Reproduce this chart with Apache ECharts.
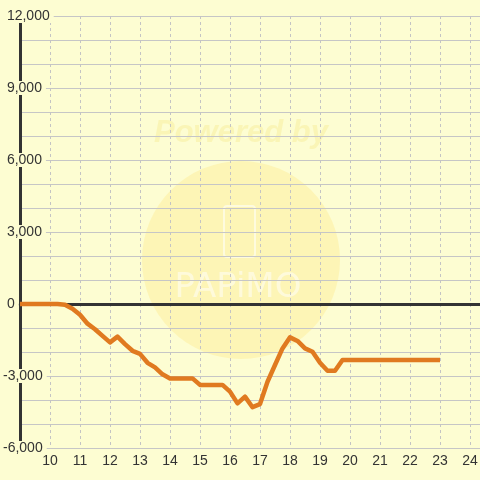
<!DOCTYPE html>
<html>
<head>
<meta charset="utf-8">
<script src="https://cdn.jsdelivr.net/npm/echarts@6/dist/echarts.min.js"></script>
<style>
  html, body { margin: 0; padding: 0; background: #fdfdd2; }
</style>
</head>
<body>
<div id="chartDom" style="width: 480px; height: 480px;"></div>
<script>
// hour of day -> value
const hours = [9, 10.25, 10.5, 10.75, 11, 11.25, 11.5, 11.75, 12, 12.25, 12.5, 12.75, 13, 13.25, 13.5, 13.75, 14, 14.75, 15, 15.75, 16, 16.25, 16.5, 16.75, 17, 17.25, 17.5, 17.75, 18, 18.25, 18.5, 18.75, 19, 19.25, 19.5, 19.75, 23];
const values = [0, 0, -30, -200, -450, -820, -1050, -1330, -1600, -1360, -1670, -1950, -2080, -2450, -2640, -2930, -3100, -3100, -3370, -3370, -3650, -4140, -3860, -4300, -4170, -3240, -2540, -1850, -1390, -1540, -1850, -1990, -2450, -2780, -2780, -2330, -2330];
const yMin = -6000;
const yMax = 12000;

const seriesData = hours.map((h, i) => [h, values[i]]);

const myChart = echarts.init(document.getElementById('chartDom'));

const option = {
    backgroundColor: '#fdfdd2',
    animation: false,
    textStyle: { fontFamily: 'Liberation Sans, Arial, sans-serif' },
    grid: {
        left: 20,
        right: 0,
        top: 16,
        bottom: 32,
        containLabel: false,
        outerBoundsMode: 'none',
    },
    graphic: [
        {
            type: 'circle',
            z: -10,
            shape: { cx: 241, cy: 260, r: 99 },
            style: { fill: 'rgba(255,225,100,0.25)' },
        },
        {
            type: 'text',
            z: -10,
            x: 241,
            y: 133,
            style: {
                text: 'Powered by',
                font: "italic bold 31px 'Liberation Sans', Arial, sans-serif",
                fill: 'rgba(245,225,110,0.28)',
                align: 'center',
                verticalAlign: 'middle',
            },
        },
        {
            type: 'rect',
            z: -10,
            shape: { x: 224, y: 206, width: 31, height: 51, r: 3 },
            style: { fill: 'none', stroke: 'rgba(255,255,255,0.55)', lineWidth: 2 },
        },
        {
            type: 'text',
            z: -10,
            x: 238,
            y: 288,
            style: {
                text: 'PAPiMO',
                font: "34px 'DejaVu Sans', sans-serif",
                fill: 'rgba(255,255,255,0.5)',
                align: 'center',
                verticalAlign: 'middle',
            },
        },
    ],
    xAxis: [
        {
            type: 'value',
            min: 9,
            max: 24 + 1 / 3,
            interval: 1,
            axisLine: { show: false, onZero: false },
            axisTick: { show: false },
            axisLabel: {
                color: '#333',
                fontSize: 14,
                margin: 6,
                formatter: (v) => (Math.abs(v - Math.round(v)) < 1e-6 && v >= 10 && v <= 24 ? String(Math.round(v)) : ''),
            },
            splitLine: {
                show: true,
                lineStyle: { color: '#c4c4c4', width: 1, type: [3, 3] },
            },
        },
        {
            type: 'value',
            min: 9,
            max: 24 + 1 / 3,
            interval: 1,
            position: 'bottom',
            axisLine: {
                show: true,
                onZero: true,
                lineStyle: { color: '#333', width: 3 },
            },
            axisTick: { show: false },
            axisLabel: { show: false },
            splitLine: { show: false },
        },
    ],
    yAxis: [
        {
            type: 'value',
            min: yMin,
            max: yMax,
            interval: 1000,
            position: 'left',
            z: 0,
            axisLine: {
                show: true,
                lineStyle: { color: '#333', width: 3 },
            },
            axisTick: { show: false },
            axisLabel: { show: false },
            splitLine: {
                show: true,
                lineStyle: { color: '#c6c6c6', width: 1 },
            },
        },
        {
            type: 'value',
            min: yMin,
            max: yMax,
            interval: 1000,
            position: 'left',
            offset: 0,
            z: 5,
            axisLine: { show: false },
            axisTick: { show: false },
            splitLine: { show: false },
            axisLabel: {
                color: '#333',
                fontSize: 14,
                margin: 17,
                align: 'left',
                backgroundColor: '#fdfdd2',
                padding: [0, 4, 0, 0],
                formatter: (v) => {
                    if (v % 3000 !== 0) return '';
                    const s = Math.abs(v).toLocaleString('en-US');
                    return v < 0 ? '-' + s : ' ' + s;
                },
            },
        },
    ],
    series: [
        {
            type: 'line',
            xAxisIndex: 0,
            yAxisIndex: 0,
            data: seriesData,
            showSymbol: false,
            symbol: 'none',
            lineStyle: {
                color: '#e07a20',
                width: 4.5,
                join: 'round',
            },
            z: 3,
        },
    ],
};

myChart.setOption(option);
</script>
</body>
</html>
